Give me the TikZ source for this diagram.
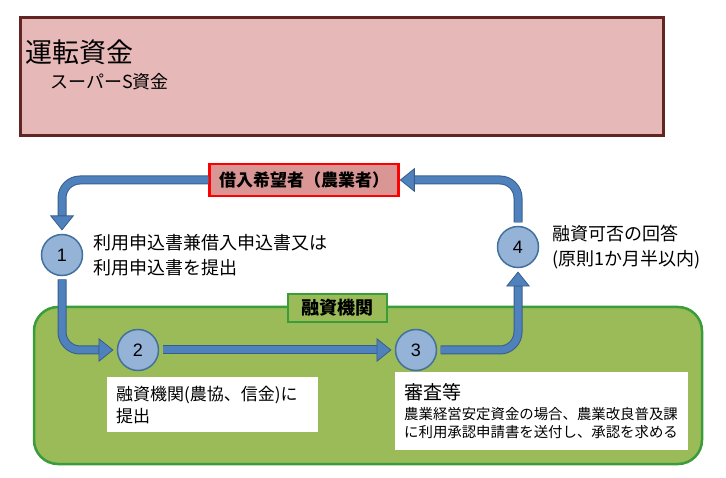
\documentclass[tikz,border=0pt]{standalone}
\usepackage{fontspec}
\setmainfont{Noto Sans CJK JP}
\newfontfamily\numfont{Liberation Sans}
\usetikzlibrary{arrows.meta,positioning}

\definecolor{titlefill}{HTML}{E6B9B8}
\definecolor{titleline}{HTML}{632523}
\definecolor{borrowfill}{HTML}{D99694}
\definecolor{borrowline}{HTML}{FF0000}
\definecolor{bankfill}{HTML}{9BBB59}
\definecolor{bankline}{HTML}{3A9D3A}
\definecolor{circfill}{HTML}{95B3D7}
\definecolor{circline}{HTML}{41719C}
\definecolor{arrowblue}{HTML}{4F81BD}
\definecolor{arrowdark}{HTML}{385D8A}

\tikzset{
  numcircle/.style={circle, draw=circline, line width=1.5pt, fill=circfill, minimum size=41pt, inner sep=0pt, outer sep=4pt, font=\numfont\fontsize{18}{18}\selectfont},
  whitebox/.style={fill=white, inner xsep=9pt, inner ysep=0pt, align=left, anchor=north west},
  note/.style={inner sep=0pt, align=left, font=\fontsize{18}{25}\selectfont},
  flowarrow/.style={line width=7pt, draw=arrowblue, rounded corners=18pt,
    -{Triangle[width=24pt,length=15pt,color=arrowdark,fill=arrowblue,line width=0.8pt]},
    preaction={draw=arrowdark, line width=9pt, -, shorten >=14pt}}
}

\begin{document}
\begin{tikzpicture}[x=1pt, y=-1pt]
        \useasboundingbox (0,0) rectangle (726,478);

        % Title
        \node (titlebox) [draw=titleline, line width=3pt, fill=titlefill, minimum width=643pt, minimum height=118pt, anchor=north west] at (18.5,16.5) {};
        \node (title) [anchor=west, inner sep=0pt, font=\fontsize{27}{27}\selectfont] at (25,52) {運転資金};
        \node (subtitle) [anchor=west, inner sep=0pt, font=\fontsize{18}{18}\selectfont] at (50,82) {スーパーS資金};

        % Nodes
        \node (bank) [draw=bankline, line width=2.5pt, fill=bankfill, rounded corners=24pt, minimum width=668pt, minimum height=157pt] at (368,385.5) {};
        \node (banklabel) [draw=bankline, line width=2.5pt, fill=bankfill, minimum width=99pt, minimum height=28pt, font=\bfseries\fontsize{18}{18}\selectfont] at (337.5,308) {融資機関};
        \node (borrower) [draw=borrowline, line width=2.5pt, fill=borrowfill, minimum width=189pt, minimum height=32pt, font=\bfseries\fontsize{17}{17}\selectfont] at (304,180) {借入希望者（農業者）};

        \node (c1) [numcircle] at (62,255) {1};
        \node (c2) [numcircle] at (138,350) {2};
        \node (c3) [numcircle] at (416,350) {3};
        \node (c4) [numcircle] at (518,247) {4};

        % Arrows
        \draw[flowarrow] (borrower.west) -| (c1.north);
        \draw[flowarrow] (c1.south) |- (c2.west);
        \draw[flowarrow] (c2.east) -- (c3.west);
        \draw[flowarrow] (c3.east) -| (c4.south);
        \draw[flowarrow] (c4.north) |- (borrower.east);

        % Annotations
        \node (note1) [note, right=7pt of c1] {利用申込書兼借入申込書又は\\利用申込書を提出};
        \node (note4) [note, right=10pt of c4] {融資可否の回答\\(原則1か月半以内)};
        \node (box2) [whitebox, minimum width=211pt, minimum height=55pt, text width=193pt, font=\fontsize{17}{22}\selectfont] at (107,377) {融資機関(農協、信金)に\\提出};
        \node (box3) [whitebox, minimum width=293pt, minimum height=78pt, text width=275pt, font=\fontsize{14.4}{18}\selectfont] at (395,372) {{\fontsize{19}{19}\selectfont 審査等}\\[2pt]農業経営安定資金の場合、農業改良普及課\\に利用承認申請書を送付し、承認を求める};
    \end{tikzpicture}
\end{document}
